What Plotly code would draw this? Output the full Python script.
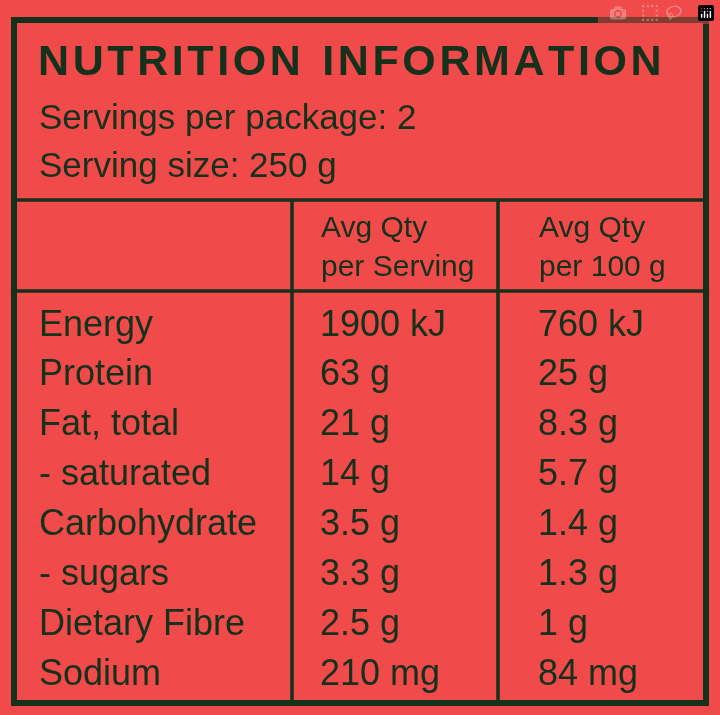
import plotly.graph_objects as go

title = "NUTRITION INFORMATION"
subtitle = ["Servings per package: 2", "Serving size: 250 g"]
col_heads = ["Avg Qty<br>per Serving", "Avg Qty<br>per 100 g"]
nutrients = ["Energy", "Protein", "Fat, total", "- saturated", "Carbohydrate",
             "- sugars", "Dietary Fibre", "Sodium"]
per_serving = ["1900 kJ", "63 g", "21 g", "14 g", "3.5 g", "3.3 g", "2.5 g", "210 mg"]
per_100g = ["760 kJ", "25 g", "8.3 g", "5.7 g", "1.4 g", "1.3 g", "1 g", "84 mg"]

bg = "#F04A4A"
ink = "#15311B"
font = "Liberation Sans"

fig = go.Figure()
fig.add_trace(go.Scatter(x=[0, 720], y=[0, 715], mode="markers", opacity=0, hoverinfo="skip"))

# frame and grid lines
fig.add_shape(type="rect", x0=14, y0=20, x1=706, y1=703, line=dict(color=ink, width=6))
fig.add_shape(type="line", x0=14, y0=200, x1=706, y1=200, line=dict(color=ink, width=3.5))
fig.add_shape(type="line", x0=14, y0=291, x1=706, y1=291, line=dict(color=ink, width=3.5))
for xv in [292, 498]:
    fig.add_shape(type="line", x0=xv, y0=200, x1=xv, y1=703, line=dict(color=ink, width=3.5))

def txt(x, y, s, size, bold=False):
    fig.add_annotation(x=x, y=y, text=s, showarrow=False, xanchor="left", yanchor="middle",
                       align="left",
                       font=dict(family=font, size=size, color=ink, weight="bold" if bold else "normal"))

txt(36, 60, "\u200a".join(title).replace("\u200a \u200a", "\u2002"), 43, bold=True)
for i, s in enumerate(subtitle):
    txt(37, 116 + i * 48, s, 35)
for s, xv in zip(col_heads, [319, 537]):
    txt(xv, 246, s, 30)
for i in range(len(nutrients)):
    y = 323 + i * 49.9
    txt(37, y, nutrients[i], 36)
    txt(318, y, per_serving[i], 36)
    txt(536, y, per_100g[i], 36)

fig.update_layout(width=720, height=715, margin=dict(l=0, r=0, t=0, b=0),
                  paper_bgcolor=bg, plot_bgcolor=bg, showlegend=False,
                  xaxis=dict(range=[0, 720], visible=False, fixedrange=True),
                  yaxis=dict(range=[715, 0], visible=False, fixedrange=True))
fig.write_html("out.html",
               post_script="document.body.style.margin='0';document.body.style.background='#F04A4A';")
